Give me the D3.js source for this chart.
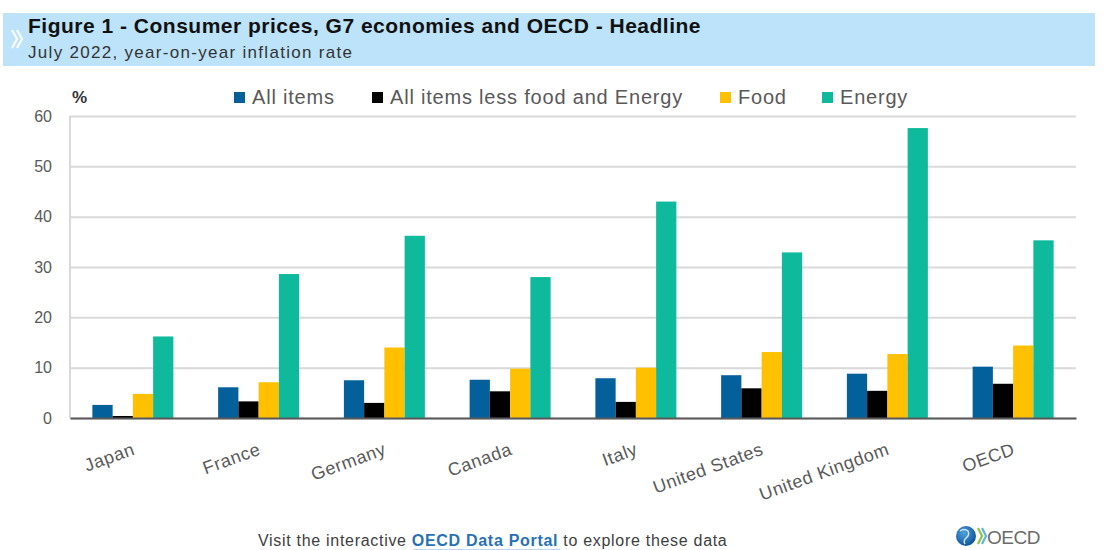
<!DOCTYPE html>
<html>
<head>
<meta charset="utf-8">
<script src="https://cdnjs.cloudflare.com/ajax/libs/d3/7.8.5/d3.min.js"></script>
<style>
  html, body { margin: 0; padding: 0; background: #fff; }
  svg { display: block; }
</style>
</head>
<body>
<svg id="chart" width="1105" height="550"></svg>
<script>
// Consumer prices, July 2022, year-on-year inflation (%)
const categories = ["Japan", "France", "Germany", "Canada", "Italy", "United States", "United Kingdom", "OECD"];
const seriesNames = ["All items", "All items less food and Energy", "Food", "Energy"];
const allItems      = [2.6, 6.1, 7.5, 7.6, 7.9, 8.5, 8.8, 10.2];
const coreItems     = [0.4, 3.3, 3.0, 5.3, 3.2, 5.9, 5.4, 6.8];
const foodItems     = [4.8, 7.1, 14.0, 9.8, 10.0, 13.1, 12.7, 14.4];
const energyItems   = [16.2, 28.6, 36.2, 28.0, 43.0, 32.9, 57.6, 35.3];
const yTicks        = [0, 10, 20, 30, 40, 50, 60];
const seriesColors  = ["#03609A", "#000000", "#FFC000", "#0EBA9B"];

const seriesValues = [allItems, coreItems, foodItems, energyItems];
const rows = categories.map((c, i) => ({
  category: c,
  values: seriesNames.map((s, j) => ({ series: s, value: seriesValues[j][i] }))
}));

const svg = d3.select("#chart");
const FONT = "'Liberation Sans', Arial, sans-serif";

// Header band
svg.append("rect").attr("x", 3).attr("y", 13).attr("width", 1092).attr("height", 53).attr("fill", "#BCE3FA");
const chev = svg.append("g").attr("fill", "none").attr("stroke", "#ffffff").attr("stroke-width", 2.2).attr("opacity", 0.9);
chev.append("path").attr("d", "M12,30 L17,39 L12,48");
chev.append("path").attr("d", "M17,30 L22,39 L17,48");
svg.append("text").attr("x", 28).attr("y", 33)
  .attr("font-family", FONT).attr("font-weight", "bold").attr("font-size", 21).attr("letter-spacing", 0.5).attr("fill", "#111")
  .text("Figure 1 - Consumer prices, G7 economies and OECD - Headline");
svg.append("text").attr("x", 28).attr("y", 58)
  .attr("font-family", FONT).attr("font-size", 17).attr("letter-spacing", 1.3).attr("fill", "#333")
  .text("July 2022, year-on-year inflation rate");

// Scales
const margin = { left: 70, right: 1076, top: 116, bottom: 418 };
const x0 = d3.scaleBand().domain(categories).range([margin.left, margin.right])
  .paddingInner(0.356).paddingOuter(0.178);
const x1 = d3.scaleBand().domain(seriesNames).range([0, x0.bandwidth()]);
const y = d3.scaleLinear().domain([0, 60]).range([margin.bottom, margin.top]);
const color = d3.scaleOrdinal().domain(seriesNames).range(seriesColors);

// Gridlines and y tick labels
const yAxis = d3.axisLeft(y).tickValues(yTicks).tickSize(-(margin.right - margin.left)).tickPadding(18);
const gy = svg.append("g").attr("transform", `translate(${margin.left},0)`).call(yAxis);
gy.select(".domain").remove();
gy.selectAll(".tick line").attr("stroke", "#D9D9D9").attr("stroke-width", 2);
gy.selectAll(".tick text").attr("font-family", FONT).attr("font-size", 16).attr("fill", "#595959");
svg.append("line").attr("x1", margin.left).attr("x2", margin.left)
  .attr("y1", margin.top).attr("y2", margin.bottom).attr("stroke", "#D9D9D9").attr("stroke-width", 2);

// Bars
const groups = svg.append("g").selectAll("g").data(rows).join("g")
  .attr("transform", d => `translate(${x0(d.category)},0)`);
groups.selectAll("rect").data(d => d.values).join("rect")
  .attr("x", d => x1(d.series))
  .attr("width", x1.bandwidth())
  .attr("y", d => y(d.value))
  .attr("height", d => y(0) - y(d.value))
  .attr("fill", d => color(d.series));

// X axis baseline and rotated category labels
const xAxis = d3.axisBottom(x0).tickSize(0).tickPadding(0);
const gx = svg.append("g").attr("transform", `translate(0,${margin.bottom})`).call(xAxis);
gx.select(".domain").attr("stroke", "#595959").attr("stroke-width", 2);
gx.selectAll(".tick text")
  .attr("font-family", FONT).attr("font-size", 18).attr("letter-spacing", 0.6).attr("fill", "#595959")
  .attr("text-anchor", "end").attr("dy", 0)
  .attr("transform", "translate(3,36) rotate(-20)");

// Legend
svg.append("text").attr("x", 72).attr("y", 103)
  .attr("font-family", FONT).attr("font-weight", "bold").attr("font-size", 17).attr("fill", "#333").text("%");
const legendX = [234, 372, 720, 822];
const lg = svg.append("g").selectAll("g").data(seriesNames).join("g")
  .attr("transform", (d, i) => `translate(${legendX[i]},92)`);
lg.append("rect").attr("width", 11).attr("height", 11).attr("fill", d => color(d));
lg.append("text").attr("x", 18).attr("y", 12)
  .attr("font-family", FONT).attr("font-size", 20).attr("letter-spacing", 0.8).attr("fill", "#595959").text(d => d);

// Footer
const foot = svg.append("text").attr("x", 258).attr("y", 546)
  .attr("font-family", FONT).attr("font-size", 16).attr("letter-spacing", 0.7).attr("fill", "#404040");
foot.append("tspan").text("Visit the interactive ");
foot.append("tspan").attr("font-weight", "bold").attr("fill", "#2771B5").text("OECD Data Portal");
foot.append("tspan").text(" to explore these data");
svg.append("line").attr("x1", 413).attr("x2", 560).attr("y1", 550).attr("y2", 550)
  .attr("stroke", "#A9CBEA").attr("stroke-width", 1.5);

// OECD logo
const defs = svg.append("defs");
const grad = defs.append("radialGradient").attr("id", "globe").attr("cx", "40%").attr("cy", "35%").attr("r", "70%");
grad.append("stop").attr("offset", "0%").attr("stop-color", "#4FA3DE");
grad.append("stop").attr("offset", "100%").attr("stop-color", "#0B4E96");
svg.append("circle").attr("cx", 966).attr("cy", 536).attr("r", 10).attr("fill", "url(#globe)");
svg.append("path").attr("d", "M960,531 q4,-3 8,0 q2,4 -2,7 q-3,3 -1,6").attr("fill", "none")
  .attr("stroke", "#ffffff").attr("stroke-width", 1.4).attr("opacity", 0.8);
const lchev = svg.append("g").attr("fill", "none").attr("stroke-width", 2.2);
lchev.append("path").attr("d", "M978,528 L982,536 L978,544").attr("stroke", "#8CC63F");
lchev.append("path").attr("d", "M982,528 L986,536 L982,544").attr("stroke", "#5BB4E5");
svg.append("text").attr("x", 987).attr("y", 544)
  .attr("font-family", FONT).attr("font-size", 19).attr("fill", "#6B6B6B").attr("letter-spacing", -0.5).text("OECD");
</script>
</body>
</html>
